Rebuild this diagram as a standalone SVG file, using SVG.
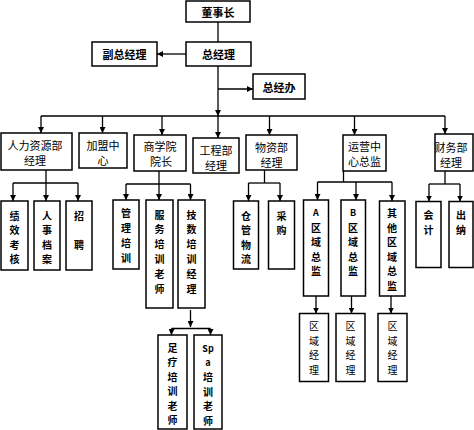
<svg xmlns="http://www.w3.org/2000/svg" width="474" height="430" viewBox="0 0 474 430">
<defs>
<marker id="ah" viewBox="0 0 10 10" refX="10" refY="5" markerWidth="6" markerHeight="6" markerUnits="userSpaceOnUse" orient="auto">
<path d="M0,0 L10,5 L0,10 z" fill="#000"/>
</marker>
</defs>
<style>
rect{fill:#fff;stroke:#000;stroke-width:1.5}
text{font-family:"Noto Sans CJK SC","Noto Sans",sans-serif;font-size:11px;fill:#000;text-anchor:middle;dominant-baseline:central}
.b{font-weight:bold}
.v{font-size:10px;font-weight:bold}
.vn{font-size:10px}
.c line{stroke:#000;stroke-width:1.3;fill:none}
.a{marker-end:url(#ah)}
</style>
<rect x="0" y="0" width="474" height="430" style="fill:#fff;stroke:none"/>
<g class="c" id="connectors">
<line x1="218" y1="22" x2="218" y2="42"/>
<line class="a" x1="186" y1="54" x2="157" y2="54"/>
<line class="a" x1="218" y1="66" x2="218" y2="116"/>
<line class="a" x1="218" y1="89" x2="253" y2="89"/>
<line x1="41" y1="116" x2="445" y2="116"/>
<line class="a" x1="41" y1="116" x2="41" y2="133"/>
<line class="a" x1="102.5" y1="116" x2="102.5" y2="133"/>
<line class="a" x1="162" y1="116" x2="162" y2="135"/>
<line class="a" x1="218" y1="116" x2="218" y2="138"/>
<line class="a" x1="269.5" y1="116" x2="269.5" y2="135"/>
<line class="a" x1="354.5" y1="116" x2="354.5" y2="135"/>
<line class="a" x1="445" y1="116" x2="445" y2="134"/>
<line x1="46" y1="170" x2="46" y2="183"/>
<line x1="13" y1="183" x2="78" y2="183"/>
<line class="a" x1="13" y1="183" x2="13" y2="201"/>
<line class="a" x1="46" y1="183" x2="46" y2="201"/>
<line class="a" x1="78" y1="183" x2="78" y2="201"/>
<line x1="159" y1="171" x2="159" y2="184"/>
<line x1="126" y1="184" x2="190.5" y2="184"/>
<line class="a" x1="126" y1="184" x2="126" y2="200"/>
<line class="a" x1="159" y1="184" x2="159" y2="200"/>
<line class="a" x1="190.5" y1="184" x2="190.5" y2="200"/>
<line class="a" x1="190.5" y1="310" x2="190.5" y2="327"/>
<line x1="171.5" y1="328.5" x2="210.5" y2="328.5"/>
<line class="a" x1="171.5" y1="328.5" x2="171.5" y2="335"/>
<line class="a" x1="210.5" y1="328.5" x2="210.5" y2="335"/>
<line x1="264.5" y1="170" x2="264.5" y2="183"/>
<line x1="248.5" y1="183" x2="280" y2="183"/>
<line class="a" x1="248.5" y1="183" x2="248.5" y2="201"/>
<line class="a" x1="280" y1="183" x2="280" y2="201"/>
<line x1="343.5" y1="171" x2="343.5" y2="182"/>
<line x1="317.5" y1="182" x2="392" y2="182"/>
<line class="a" x1="317.5" y1="182" x2="317.5" y2="200"/>
<line class="a" x1="356" y1="182" x2="356" y2="200"/>
<line class="a" x1="392" y1="182" x2="392" y2="201"/>
<line class="a" x1="316" y1="296" x2="316" y2="313.5"/>
<line class="a" x1="351.5" y1="296" x2="351.5" y2="313.5"/>
<line class="a" x1="391" y1="296" x2="391" y2="313.5"/>
<line x1="445" y1="171" x2="445" y2="184"/>
<line x1="429" y1="184" x2="460" y2="184"/>
<line class="a" x1="429" y1="184" x2="429" y2="201.5"/>
<line class="a" x1="460" y1="184" x2="460" y2="201.5"/>
</g>
<g id="dongshizhang"><rect x="186" y="1" width="64" height="21"/><text class="b" x="218" y="12">董事长</text></g>
<g id="zongjingli"><rect x="186" y="42" width="65" height="24"/><text class="b" x="218.5" y="54">总经理</text></g>
<g id="fuzongjingli"><rect x="92" y="42" width="65" height="24"/><text class="b" x="124.5" y="54">副总经理</text></g>
<g id="zongjingban"><rect x="253" y="74" width="52" height="25"/><text class="b" x="279" y="87">总经办</text></g>
<g id="renli"><rect x="1" y="133" width="71" height="37"/><text x="35" y="145">人力资源部</text><text x="35" y="160">经理</text></g>
<g id="jiameng"><rect x="79" y="133" width="48" height="35"/><text x="103" y="145">加盟中</text><text x="103" y="160">心</text></g>
<g id="shangxueyuan"><rect x="134" y="135" width="52" height="36"/><text x="160" y="146">商学院</text><text x="161" y="161">院长</text></g>
<g id="gongcheng"><rect x="193" y="138" width="46" height="35"/><text x="216" y="150">工程部</text><text x="216" y="164.5">经理</text></g>
<g id="wuzi"><rect x="246" y="135" width="51" height="35"/><text x="271.5" y="146.5">物资部</text><text x="271.5" y="161.5">经理</text></g>
<g id="yunying"><rect x="343" y="135" width="43" height="36"/><text x="364.5" y="145.5">运营中</text><text x="364.5" y="160.5">心总监</text></g>
<g id="caiwu"><rect x="435" y="134" width="38" height="37"/><text x="451" y="146.5">财务部</text><text x="451" y="161.5">经理</text></g>
<g id="jixiao"><rect x="1" y="201" width="27" height="69"/><text class="v" x="14.5" y="214.5"><tspan x="14.5">绩</tspan><tspan x="14.5" dy="14.5">效</tspan><tspan x="14.5" dy="14.5">考</tspan><tspan x="14.5" dy="14.5">核</tspan></text></g>
<g id="renshi"><rect x="34" y="201" width="26" height="69"/><text class="v" x="47" y="214.5"><tspan x="47">人</tspan><tspan x="47" dy="14.5">事</tspan><tspan x="47" dy="14.5">档</tspan><tspan x="47" dy="14.5">案</tspan></text></g>
<g id="zhaopin"><rect x="66" y="201" width="26" height="69"/><text class="v" x="79" y="214.5"><tspan x="79">招</tspan><tspan x="79" dy="29">聘</tspan></text></g>
<g id="guanli"><rect x="113" y="200" width="26" height="69"/><text class="v" x="126" y="212"><tspan x="126">管</tspan><tspan x="126" dy="15">理</tspan><tspan x="126" dy="15">培</tspan><tspan x="126" dy="15">训</tspan></text></g>
<g id="fuwu"><rect x="146" y="200" width="27" height="108"/><text class="v" x="159.5" y="213.5"><tspan x="159.5">服</tspan><tspan x="159.5" dy="14.8">务</tspan><tspan x="159.5" dy="14.8">培</tspan><tspan x="159.5" dy="14.8">训</tspan><tspan x="159.5" dy="14.8">老</tspan><tspan x="159.5" dy="14.8">师</tspan></text></g>
<g id="jishu"><rect x="178" y="200" width="27" height="108"/><text class="v" x="191.5" y="213.5"><tspan x="191.5">技</tspan><tspan x="191.5" dy="14.8">数</tspan><tspan x="191.5" dy="14.8">培</tspan><tspan x="191.5" dy="14.8">训</tspan><tspan x="191.5" dy="14.8">经</tspan><tspan x="191.5" dy="14.8">理</tspan></text></g>
<g id="zuliao"><rect x="158" y="335" width="29" height="94"/><text class="v" x="172.5" y="347"><tspan x="172.5">足</tspan><tspan x="172.5" dy="14.4">疗</tspan><tspan x="172.5" dy="14.4">培</tspan><tspan x="172.5" dy="14.4">训</tspan><tspan x="172.5" dy="14.4">老</tspan><tspan x="172.5" dy="14.4">师</tspan></text></g>
<g id="spa"><rect x="194" y="335" width="28" height="94"/><text class="v" x="208" y="347.5"><tspan x="208" style="font-size:9px">Sp</tspan><tspan x="208" dy="14.4" style="font-size:9px">a</tspan><tspan x="208" dy="14.4">培</tspan><tspan x="208" dy="14.4">训</tspan><tspan x="208" dy="14.4">老</tspan><tspan x="208" dy="14.4">师</tspan></text></g>
<g id="cangguan"><rect x="233.5" y="201" width="25" height="68"/><text class="v" x="246" y="214.5"><tspan x="246">仓</tspan><tspan x="246" dy="14.5">管</tspan><tspan x="246" dy="14.5">物</tspan><tspan x="246" dy="14.5">流</tspan></text></g>
<g id="caigou"><rect x="268.5" y="201" width="26" height="68"/><text class="v" x="281.5" y="214.5"><tspan x="281.5">采</tspan><tspan x="281.5" dy="14.5">购</tspan></text></g>
<g id="aquyu"><rect x="303.5" y="200" width="25" height="96"/><text class="v" x="316" y="212"><tspan x="316" style="font-size:9px">A</tspan><tspan x="316" dy="14.5">区</tspan><tspan x="316" dy="14.5">域</tspan><tspan x="316" dy="14.5">总</tspan><tspan x="316" dy="14.5">监</tspan></text></g>
<g id="bquyu"><rect x="341" y="200" width="24.5" height="96"/><text class="v" x="353" y="212"><tspan x="353" style="font-size:9px">B</tspan><tspan x="353" dy="14.5">区</tspan><tspan x="353" dy="14.5">域</tspan><tspan x="353" dy="14.5">总</tspan><tspan x="353" dy="14.5">监</tspan></text></g>
<g id="qita"><rect x="379.5" y="201" width="25.5" height="95"/><text class="v" x="392" y="212"><tspan x="392">其</tspan><tspan x="392" dy="14.6">他</tspan><tspan x="392" dy="14.6">区</tspan><tspan x="392" dy="14.6">域</tspan><tspan x="392" dy="14.6">总</tspan><tspan x="392" dy="14.6">监</tspan></text></g>
<g id="quyu1"><rect x="299.5" y="313.5" width="29" height="68"/><text class="vn" x="314" y="325"><tspan x="314">区</tspan><tspan x="314" dy="14.6">域</tspan><tspan x="314" dy="14.6">经</tspan><tspan x="314" dy="14.6">理</tspan></text></g>
<g id="quyu2"><rect x="336" y="313.5" width="29" height="68"/><text class="vn" x="350.5" y="325"><tspan x="350.5">区</tspan><tspan x="350.5" dy="14.6">域</tspan><tspan x="350.5" dy="14.6">经</tspan><tspan x="350.5" dy="14.6">理</tspan></text></g>
<g id="quyu3"><rect x="378" y="313.5" width="29" height="68"/><text class="vn" x="392.5" y="325"><tspan x="392.5">区</tspan><tspan x="392.5" dy="14.6">域</tspan><tspan x="392.5" dy="14.6">经</tspan><tspan x="392.5" dy="14.6">理</tspan></text></g>
<g id="kuaiji"><rect x="416" y="201.5" width="25" height="66"/><text class="v" x="428.5" y="214"><tspan x="428.5">会</tspan><tspan x="428.5" dy="14.5">计</tspan></text></g>
<g id="chuna"><rect x="449" y="201.5" width="24" height="66"/><text class="v" x="461" y="214"><tspan x="461">出</tspan><tspan x="461" dy="14.5">纳</tspan></text></g>
</svg>
